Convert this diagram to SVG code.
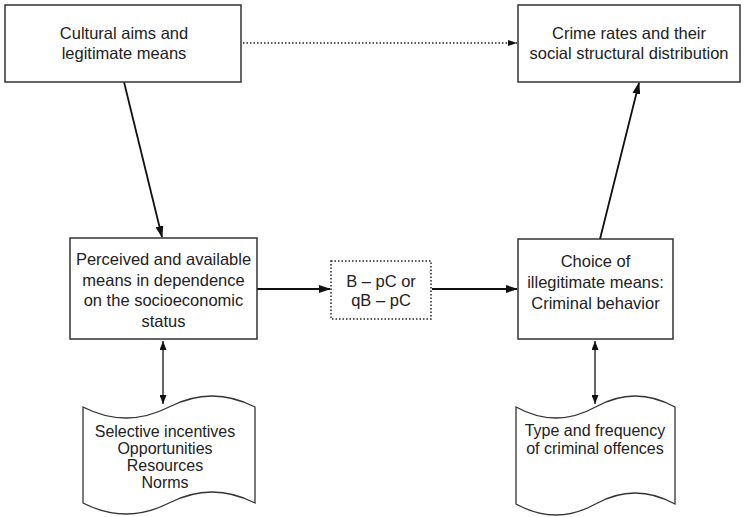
<svg xmlns="http://www.w3.org/2000/svg" width="745" height="517" viewBox="0 0 745 517">
<style>
.box{fill:#fff;stroke:#333;stroke-width:1.5}
.dot{fill:#fff;stroke:#222;stroke-width:1.5;stroke-dasharray:1.5 2}
.doc{fill:#fff;stroke:#333;stroke-width:1.3}
.t{font-family:"Liberation Sans",Arial,sans-serif;font-size:16.5px;fill:#222;text-anchor:middle}
.s{font-size:16px}
.c{stroke:#111;stroke-width:1.8;fill:none}
.cd{stroke:#222;stroke-width:1.5;fill:none;stroke-dasharray:1.5 2}
.cb{stroke:#111;stroke-width:1.3;fill:none}
</style>
<defs>
<marker id="ah" markerWidth="12" markerHeight="8" refX="11" refY="4" orient="auto" markerUnits="userSpaceOnUse"><path d="M0,0 L12,4 L0,8 z" fill="#111"/></marker>
<marker id="as" markerWidth="9" markerHeight="6" refX="9" refY="3" orient="auto" markerUnits="userSpaceOnUse"><path d="M0,0 L9,3 L0,6 z" fill="#111"/></marker>
<marker id="ab" markerWidth="9" markerHeight="7" refX="9" refY="3.5" orient="auto-start-reverse" markerUnits="userSpaceOnUse"><path d="M0,0 L9,3.5 L0,7 z" fill="#111"/></marker>
</defs>
<g id="connectors">
<line class="c" x1="124" y1="82" x2="162" y2="237" marker-end="url(#ah)"/>
<line class="cd" x1="243" y1="43" x2="517" y2="43" marker-end="url(#as)"/>
<line class="c" x1="257" y1="289" x2="330" y2="289" marker-end="url(#ah)"/>
<line class="c" x1="432" y1="289" x2="517" y2="289" marker-end="url(#ah)"/>
<line class="c" x1="600" y1="239" x2="639" y2="83" marker-end="url(#ah)"/>
<line class="cb" x1="163" y1="341" x2="163" y2="404" marker-start="url(#ab)" marker-end="url(#ab)"/>
<line class="cb" x1="595" y1="341" x2="595" y2="404" marker-start="url(#ab)" marker-end="url(#ab)"/>
</g>
<g id="cultural">
<rect class="box" x="5" y="5" width="236" height="77"/>
<text class="t" x="124" y="39">Cultural aims and</text>
<text class="t" x="124" y="59">legitimate means</text>
</g>
<g id="crime">
<rect class="box" x="518" y="5" width="222" height="77"/>
<text class="t" x="629" y="39">Crime rates and their</text>
<text class="t" x="629" y="59">social structural distribution</text>
</g>
<g id="perceived">
<rect class="box" x="70" y="238" width="187" height="101"/>
<text class="t" x="163.5" y="265">Perceived and available</text>
<text class="t" x="163.5" y="285.5">means in dependence</text>
<text class="t" x="163.5" y="306">on the socioeconomic</text>
<text class="t" x="163.5" y="327">status</text>
</g>
<g id="formula">
<rect class="dot" x="331" y="261" width="100" height="58"/>
<text class="t" x="381" y="287">B – pC or</text>
<text class="t" x="381" y="306">qB – pC</text>
</g>
<g id="choice">
<rect class="box" x="518" y="239" width="155" height="100"/>
<text class="t" x="595.5" y="267">Choice of</text>
<text class="t" x="595.5" y="288">illegitimate means:</text>
<text class="t" x="595.5" y="309">Criminal behavior</text>
</g>
<g id="incentives">
<path class="doc" d="M83,407 Q126,429 169,407 T255,407 L255,503 Q212,481 169,503 T83,503 Z"/>
<text class="t s" x="165" y="437">Selective incentives</text>
<text class="t s" x="165" y="454">Opportunities</text>
<text class="t s" x="165" y="471">Resources</text>
<text class="t s" x="165" y="488">Norms</text>
</g>
<g id="offences">
<path class="doc" d="M516,407 Q556,429 595.5,407 T675,407 L675,504 Q635,482 595.5,504 T516,504 Z"/>
<text class="t s" x="595" y="436">Type and frequency</text>
<text class="t s" x="595" y="454">of criminal offences</text>
</g>
</svg>
